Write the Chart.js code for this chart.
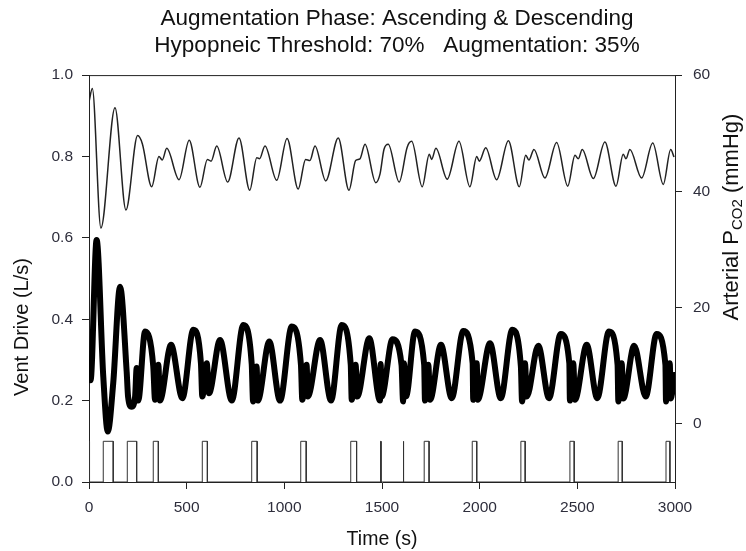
<!DOCTYPE html>
<html>
<head>
<meta charset="utf-8">
<script src="https://cdn.jsdelivr.net/npm/chart.js@4.4.1/dist/chart.umd.min.js"></script>
<style>
  body { margin: 0; background: #fff; }
  canvas { display: block; }
</style>
</head>
<body>
<canvas id="grafico" width="746" height="551"></canvas>
<script>
// Tiempo (s) y PCO2 arterial (mmHg) - linea fina, eje derecho
const pco2Time = [0, 17, 61, 133, 189, 249, 273, 321, 358, 375, 398, 461, 513, 568, 606, 625, 654, 710, 768, 823, 859, 873, 901, 961, 1014, 1071, 1109, 1131, 1157, 1212, 1276, 1331, 1365, 1387, 1413, 1468, 1490, 1510, 1532, 1588, 1629, 1652, 1706, 1742, 1754, 1776, 1834, 1894, 1950, 1985, 1998, 2031, 2087, 2147, 2203, 2236, 2252, 2278, 2334, 2394, 2451, 2488, 2505, 2525, 2582, 2641, 2698, 2735, 2749, 2769, 2829, 2886, 2940, 2978, 2995];
const pco2Values = [55.4, 57.7, 33.7, 54.4, 36.8, 49.6, 48.2, 40.8, 46.0, 45.4, 47.4, 42.0, 48.8, 40.7, 45.5, 45.2, 47.8, 41.6, 49.2, 40.2, 45.8, 45.6, 47.8, 41.9, 49.1, 40.4, 45.5, 45.3, 47.8, 41.8, 49.2, 40.2, 45.3, 45.6, 48.1, 41.5, 43.0, 47.2, 48.1, 41.6, 47.6, 48.6, 40.8, 46.4, 45.5, 47.4, 42.1, 48.6, 40.8, 46.0, 45.2, 47.5, 42.0, 48.7, 40.8, 46.2, 45.4, 47.2, 42.3, 48.4, 40.9, 46.2, 45.6, 47.2, 42.2, 48.5, 40.9, 46.4, 45.6, 47.2, 42.3, 48.3, 41.2, 47.2, 45.9];

// Tiempo (s) y Vent Drive (L/s) - linea gruesa, eje izquierdo
const driveTime = [0, 8, 39, 73, 96, 124, 159, 193, 200, 218, 236, 244, 252, 287, 329, 338, 355, 363, 420, 478, 534, 573, 580, 603, 614, 671, 731, 790, 833, 840, 858, 864, 923, 978, 1038, 1085, 1092, 1114, 1120, 1183, 1239, 1294, 1340, 1345, 1365, 1373, 1435, 1490, 1493, 1498, 1554, 1600, 1608, 1612, 1623, 1669, 1716, 1720, 1737, 1746, 1802, 1857, 1916, 1964, 1967, 1985, 1990, 2053, 2108, 2167, 2211, 2217, 2232, 2241, 2300, 2355, 2415, 2459, 2462, 2479, 2488, 2548, 2602, 2662, 2706, 2710, 2727, 2735, 2791, 2850, 2906, 2951, 2954, 2973, 2979, 2995];
const driveValues = [0.29, 0.25, 0.595, 0.26, 0.124, 0.243, 0.48, 0.27, 0.21, 0.185, 0.21, 0.28, 0.2, 0.37, 0.284, 0.202, 0.288, 0.2, 0.337, 0.206, 0.374, 0.292, 0.21, 0.292, 0.218, 0.349, 0.2, 0.386, 0.29, 0.198, 0.284, 0.2, 0.345, 0.2, 0.382, 0.288, 0.202, 0.288, 0.21, 0.349, 0.2, 0.386, 0.288, 0.202, 0.288, 0.21, 0.353, 0.2, 0.29, 0.21, 0.351, 0.288, 0.198, 0.292, 0.21, 0.37, 0.288, 0.2, 0.288, 0.202, 0.337, 0.206, 0.371, 0.292, 0.202, 0.292, 0.202, 0.341, 0.206, 0.374, 0.284, 0.198, 0.292, 0.21, 0.335, 0.206, 0.364, 0.292, 0.2, 0.292, 0.202, 0.337, 0.206, 0.37, 0.288, 0.198, 0.292, 0.205, 0.335, 0.21, 0.364, 0.288, 0.198, 0.292, 0.205, 0.263];

// Pulsos de aumentacion (inicio / fin en s)
const pulseStart = [0, 73, 196, 329, 580, 833, 1084, 1340, 1493, 1609, 1716, 1962, 2211, 2462, 2709, 2954];
const pulseEnd = [4, 124, 244, 355, 606, 861, 1112, 1370, 1495, 1611, 1741, 1985, 2233, 2484, 2730, 2974];
const pulseHeight = 0.1;

// Marcas de los ejes
const leftTicks = [0, 0.2, 0.4, 0.6, 0.8, 1.0];
const rightTicks = [0, 20, 40, 60];
const timeTicks = [0, 500, 1000, 1500, 2000, 2500, 3000];

const FONT = '"Liberation Sans", Arial, sans-serif';
const TICK_COLOR = '#2e2e3c';
const AXIS_COLOR = '#222';

const pulsos = [];
pulseStart.forEach((t, i) => {
  pulsos.push({ x: t, y: 0 }, { x: t, y: pulseHeight }, { x: pulseEnd[i], y: pulseHeight }, { x: pulseEnd[i], y: 0 });
});

// Titulos de ejes verticales (el derecho lleva subindice) y borde superior
const titulosEjes = {
  id: 'titulosEjes',
  afterDraw(chart) {
    const { ctx, chartArea } = chart;
    ctx.save();
    ctx.strokeStyle = AXIS_COLOR;
    ctx.lineWidth = 1;
    ctx.beginPath();
    ctx.moveTo(chartArea.left, chartArea.top + 0.5);
    ctx.lineTo(chartArea.right, chartArea.top + 0.5);
    ctx.stroke();

    ctx.fillStyle = '#111';
    ctx.textBaseline = 'middle';
    ctx.font = '20px ' + FONT;
    ctx.save();
    ctx.translate(chartArea.left - 67, chartArea.bottom - 155);
    ctx.rotate(-Math.PI / 2);
    ctx.textAlign = 'center';
    ctx.fillText('Vent Drive (L/s)', 0, 0);
    ctx.restore();

    const parte1 = 'Arterial P', sub = 'CO2', parte2 = ' (mmHg)';
    const grande = '22px ' + FONT, chico = '15px ' + FONT;
    ctx.font = grande;
    const w1 = ctx.measureText(parte1).width;
    const w3 = ctx.measureText(parte2).width;
    ctx.font = chico;
    const w2 = ctx.measureText(sub).width;
    const total = w1 + w2 + w3;
    ctx.save();
    ctx.translate(chartArea.right + 57, chartArea.top + 142);
    ctx.rotate(-Math.PI / 2);
    ctx.textAlign = 'left';
    let x = -total / 2;
    ctx.font = grande;
    ctx.fillText(parte1, x, 0);
    x += w1;
    ctx.font = chico;
    ctx.fillText(sub, x, 6);
    x += w2;
    ctx.font = grande;
    ctx.fillText(parte2, x, 0);
    ctx.restore();
    ctx.restore();
  }
};

new Chart(document.getElementById('grafico'), {
  type: 'line',
  data: {
    datasets: [
      {
        label: 'Vent Drive',
        data: driveTime.map((t, i) => ({ x: t, y: driveValues[i] })),
        yAxisID: 'y',
        borderColor: '#000',
        borderWidth: 6,
        pointRadius: 0,
        cubicInterpolationMode: 'monotone',
        borderJoinStyle: 'round',
        borderCapStyle: 'round'
      },
      {
        label: 'Augmentation',
        data: pulsos,
        yAxisID: 'y',
        borderColor: '#333',
        borderWidth: 1,
        pointRadius: 0,
        tension: 0
      },
      {
        label: 'Arterial PCO2',
        data: pco2Time.map((t, i) => ({ x: t, y: pco2Values[i] })),
        yAxisID: 'y1',
        borderColor: '#222',
        borderWidth: 1.5,
        pointRadius: 0,
        cubicInterpolationMode: 'monotone'
      }
    ]
  },
  options: {
    responsive: false,
    animation: false,
    layout: { padding: { left: 48, right: 0, top: 0, bottom: 0 } },
    plugins: {
      legend: { display: false },
      tooltip: { enabled: false },
      title: {
        display: true,
        text: ['Augmentation Phase: Ascending & Descending', 'Hypopneic Threshold: 70%   Augmentation: 35%'],
        color: '#111',
        font: { family: FONT, size: 22.5, weight: 'normal', lineHeight: 1.18 },
        padding: { top: 6, bottom: 16 }
      }
    },
    scales: {
      x: {
        type: 'linear',
        min: 0,
        max: 3000,
        afterBuildTicks: s => { s.ticks = timeTicks.map(v => ({ value: v })); },
        afterFit: s => { s.height = 69; },
        ticks: { color: TICK_COLOR, font: { family: FONT, size: 15.5 }, padding: 9, maxRotation: 0, callback: v => String(v) },
        grid: { drawOnChartArea: false, tickLength: 7, color: AXIS_COLOR },
        border: { color: AXIS_COLOR },
        title: { display: true, text: 'Time (s)', color: '#111', font: { family: FONT, size: 19.5 }, padding: { top: 0, bottom: 0 } }
      },
      y: {
        position: 'left',
        min: 0,
        max: 1,
        afterBuildTicks: s => { s.ticks = leftTicks.map(v => ({ value: v })); },
        afterFit: s => { s.width = 41; },
        ticks: { color: TICK_COLOR, font: { family: FONT, size: 15.5 }, padding: 9, callback: v => v.toFixed(1) },
        grid: { drawOnChartArea: false, tickLength: 7, color: AXIS_COLOR },
        border: { color: AXIS_COLOR }
      },
      y1: {
        position: 'right',
        min: -10,
        max: 60,
        afterBuildTicks: s => { s.ticks = rightTicks.map(v => ({ value: v })); },
        afterFit: s => { s.width = 71; },
        ticks: { color: TICK_COLOR, font: { family: FONT, size: 15.5 }, padding: 11 },
        grid: { drawOnChartArea: false, tickLength: 7, color: AXIS_COLOR },
        border: { color: AXIS_COLOR }
      }
    }
  },
  plugins: [titulosEjes]
});
</script>
</body>
</html>
